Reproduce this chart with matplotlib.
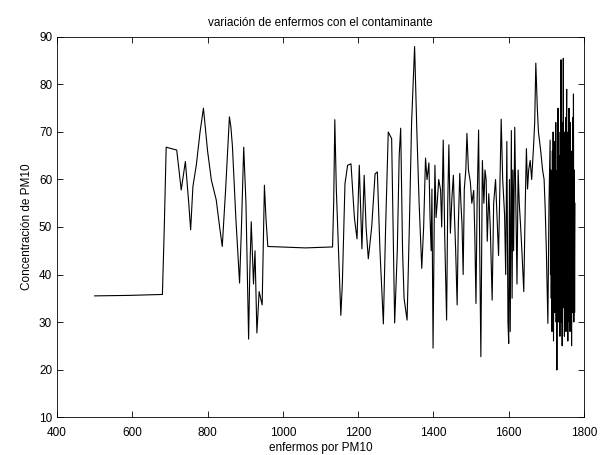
import matplotlib
matplotlib.use("Agg")
import matplotlib.pyplot as plt

x_tramo1 = [500, 590, 680, 685, 690, 718, 730, 741, 750, 755, 761, 770, 780, 789,
            800, 810, 823, 832, 839, 848, 858, 862, 866, 875, 885, 890, 896, 902,
            909, 912, 916, 922, 926, 931, 937, 941, 945, 951, 955, 960, 1060]
y_tramo1 = [35.5, 35.6, 35.8, 50, 66.8, 66.2, 57.8, 63.8, 55, 49.4, 58.5, 63, 70, 75,
            66, 59.9, 55.7, 50, 45.9, 58, 73.2, 71, 67, 52, 38.2, 50, 66.8, 55,
            26.4, 40, 51.1, 38, 45, 27.7, 36.4, 35, 33.6, 58.8, 52, 45.9, 45.6]

x_tramo2 = [1132, 1135, 1138, 1142, 1148, 1154, 1158, 1165, 1172, 1181, 1190, 1197,
            1203, 1210, 1216, 1221, 1227, 1236, 1245, 1251, 1258, 1267, 1273, 1280,
            1289, 1297, 1304, 1309, 1313, 1318, 1322, 1330, 1336, 1342, 1350, 1356,
            1362, 1369, 1374]
y_tramo2 = [45.8, 55, 72.6, 58, 45, 31.4, 38, 59.1, 63, 63.3, 52, 47.5,
            63, 45.4, 60.9, 50, 43.3, 50, 61.2, 61.6, 45, 29.6, 50, 70,
            68.6, 29.8, 45, 65, 70.8, 45, 35, 30.4, 50, 72, 88, 70,
            55, 41.3, 50]

x_tramo3 = [1379, 1383, 1388, 1391, 1394, 1396, 1399, 1402, 1404, 1407, 1410, 1414,
            1419, 1422, 1426, 1430, 1435, 1438, 1441, 1445, 1449, 1453, 1456, 1459,
            1463, 1466, 1470, 1473, 1476, 1479, 1482, 1486, 1489, 1493, 1498, 1502,
            1507, 1510, 1513, 1516, 1520, 1523, 1526, 1530, 1534, 1537, 1540, 1543,
            1547, 1551, 1556, 1560, 1565, 1569, 1573, 1577, 1580, 1584, 1589, 1592,
            1595, 1598, 1600, 1602, 1604, 1607, 1609, 1611, 1613, 1616, 1619, 1622,
            1625, 1628, 1631, 1635, 1640, 1644, 1647, 1650, 1653, 1657, 1661, 1666,
            1669, 1672, 1676, 1679, 1685, 1690, 1694, 1697, 1700, 1704, 1707, 1710]
y_tramo3 = [64.5, 60, 63.5, 52, 45, 58, 24.5, 50, 63, 52, 55, 60,
            57.8, 50, 68.3, 48, 30.4, 55, 67.3, 48.7, 56, 60.9, 52, 45.2,
            33.6, 50, 61.3, 55, 50.5, 40, 58, 62, 69.7, 62, 59.5, 55,
            57.7, 48, 33.9, 55, 70.4, 45, 22.7, 64, 55, 62, 60, 47,
            57, 50, 34.6, 55, 60, 52, 44, 60, 72.7, 60, 52.5, 40,
            68, 30, 25.5, 60, 28, 70.3, 35, 62, 45, 71, 55, 38,
            62, 55, 51, 45, 36.4, 55, 66.5, 58, 62, 64, 60, 67,
            72, 84.5, 75, 70, 66, 62, 60, 53.6, 45, 29.7, 55, 68.3]

x_tramo4 = [1711, 1712, 1713, 1714, 1715, 1716, 1717, 1718, 1719, 1720, 1721, 1722,
            1723, 1724, 1725, 1726, 1727, 1728, 1729, 1730, 1731, 1732, 1733, 1734,
            1735, 1736, 1737, 1738, 1739, 1740, 1741, 1742, 1743, 1744, 1745, 1746,
            1747, 1748, 1749, 1750, 1751, 1752, 1753, 1754, 1755, 1756, 1757, 1758,
            1759, 1760, 1761, 1762, 1763, 1764, 1765, 1766, 1767, 1768, 1769, 1770,
            1771, 1772, 1773, 1774, 1775, 1776]
y_tramo4 = [40, 62, 35, 58, 28, 66, 45, 70, 26, 50, 68, 32,
            60, 38, 72, 30, 55, 19.9, 62, 40, 75, 30, 70, 35,
            65, 27, 60, 42, 85.2, 30, 68, 25, 72, 38, 85.5, 33,
            65, 27, 70, 45, 73, 28, 68, 79, 32, 62, 26, 70,
            40, 75, 30, 63, 28, 72, 35, 58, 25, 66, 32, 73,
            38, 78, 30, 62, 32, 55]

enfermos = x_tramo1 + x_tramo2 + x_tramo3 + x_tramo4
concentracion = y_tramo1 + y_tramo2 + y_tramo3 + y_tramo4

plt.rcParams['font.family'] = ['Liberation Sans', 'DejaVu Sans']

fig = plt.figure(figsize=(6.02, 4.55), dpi=100)
ax = fig.add_axes([0.0947, 0.0835, 0.8754, 0.8352])
ax.plot(enfermos, concentracion, color='black', linewidth=0.8)

ax.set_xlim(400, 1800)
ax.set_ylim(10, 90)
ax.set_xticks(range(400, 1801, 200))
ax.set_yticks(range(10, 91, 10))
ax.tick_params(direction='in', top=True, right=True, length=4, labelsize=8.5, width=0.6)
ax.tick_params(axis='x', pad=7)
for s in ax.spines.values():
    s.set_linewidth(0.6)

ax.set_title('variación de enfermos con el contaminante', fontsize=8.5, pad=8)
ax.set_xlabel('enfermos por PM10', fontsize=8.5, labelpad=2)
ax.set_ylabel('Concentración de PM10', fontsize=8.5, labelpad=4)

fig.savefig('out.png', dpi=100)
